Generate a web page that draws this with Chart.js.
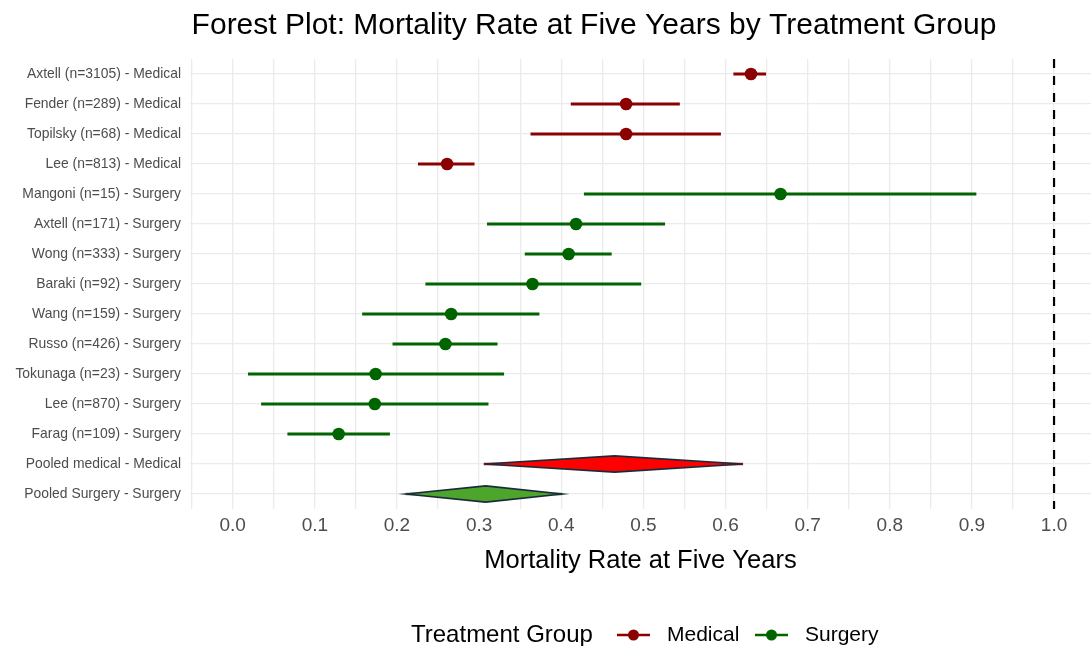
<!DOCTYPE html>
<html>
<head>
<meta charset="utf-8">
<script src="https://cdn.jsdelivr.net/npm/chart.js@4.4.1/dist/chart.umd.min.js"></script>
<style>
  html, body { margin: 0; padding: 0; background: #fff; overflow: hidden; }
  canvas { display: block; }
</style>
</head>
<body>
<canvas id="forest" width="1091" height="646"></canvas>
<script>
/* DATA */
const studyLabels = [
    "Axtell (n=3105) - Medical", "Fender (n=289) - Medical", "Topilsky (n=68) - Medical",
    "Lee (n=813) - Medical", "Mangoni (n=15) - Surgery", "Axtell (n=171) - Surgery",
    "Wong (n=333) - Surgery", "Baraki (n=92) - Surgery", "Wang (n=159) - Surgery",
    "Russo (n=426) - Surgery", "Tokunaga (n=23) - Surgery", "Lee (n=870) - Surgery",
    "Farag (n=109) - Surgery"
];
const studyGroups = ["Medical", "Medical", "Medical", "Medical", "Surgery", "Surgery",
    "Surgery", "Surgery", "Surgery", "Surgery", "Surgery", "Surgery", "Surgery"];
const studyEstimates = [0.631, 0.479, 0.479, 0.261, 0.667, 0.418, 0.409, 0.365, 0.266, 0.259, 0.174, 0.173, 0.129];
const studyLower = [0.610, 0.412, 0.363, 0.226, 0.428, 0.310, 0.356, 0.235, 0.158, 0.195, 0.019, 0.035, 0.067];
const studyUpper = [0.649, 0.544, 0.594, 0.294, 0.905, 0.526, 0.461, 0.497, 0.373, 0.322, 0.330, 0.311, 0.191];

const pooledLabels = ["Pooled medical - Medical", "Pooled Surgery - Surgery"];
const pooledGroups = ["Medical", "Surgery"];
const pooledEstimates = [0.465, 0.308];
const pooledLower = [0.306, 0.211];
const pooledUpper = [0.621, 0.401];

const xTickValues = [0, 0.1, 0.2, 0.3, 0.4, 0.5, 0.6, 0.7, 0.8, 0.9, 1.0];
const xTickLabels = ["0.0", "0.1", "0.2", "0.3", "0.4", "0.5", "0.6", "0.7", "0.8", "0.9", "1.0"];
const xMinorValues = [-0.05, 0.05, 0.15, 0.25, 0.35, 0.45, 0.55, 0.65, 0.75, 0.85, 0.95];
const referenceLine = 1.0;

/*****************************************************************/

const groupColors = { Medical: "#8B0000", Surgery: "#006400" };
const diamondFill = { Medical: "#FF0000", Surgery: "#4DA52C" };
const FONT = "'Liberation Sans', Arial, sans-serif";

const allLabels = studyLabels.concat(pooledLabels);

// CI bars for one group (null where the row belongs to another group)
function ciData(group) {
    return allLabels.map((label, i) => {
        if (i < studyLabels.length && studyGroups[i] === group) {
            return [studyLower[i], studyUpper[i]];
        }
        return null;
    });
}

function pointData(group) {
    const pts = [];
    studyLabels.forEach((label, i) => {
        if (studyGroups[i] === group) pts.push({ x: studyEstimates[i], y: label });
    });
    return pts;
}

// Thin line under the pooled diamonds
const pooledCi = allLabels.map((label, i) => {
    const p = pooledLabels.indexOf(label);
    return p >= 0 ? [pooledLower[p], pooledUpper[p]] : null;
});

/* PLUGINS */
const forestExtras = {
    id: "forestExtras",
    afterDatasetsDraw(chart) {
        const ctx = chart.ctx;
        const xs = chart.scales.x;
        const ys = chart.scales.y;
        const band = ys.getPixelForValue(1) - ys.getPixelForValue(0);

        // Pooled diamonds
        pooledLabels.forEach((label, i) => {
            const yc = ys.getPixelForValue(allLabels.indexOf(label));
            const h = band * 0.27;
            ctx.save();
            ctx.beginPath();
            ctx.moveTo(xs.getPixelForValue(pooledLower[i]), yc);
            ctx.lineTo(xs.getPixelForValue(pooledEstimates[i]), yc - h);
            ctx.lineTo(xs.getPixelForValue(pooledUpper[i]), yc);
            ctx.lineTo(xs.getPixelForValue(pooledEstimates[i]), yc + h);
            ctx.closePath();
            ctx.fillStyle = diamondFill[pooledGroups[i]];
            ctx.fill();
            ctx.lineWidth = 1.6;
            ctx.strokeStyle = "#1B2A3A";
            ctx.stroke();
            ctx.restore();
        });

        // Dashed reference line
        const xr = xs.getPixelForValue(referenceLine);
        ctx.save();
        ctx.beginPath();
        ctx.setLineDash([9, 8]);
        ctx.lineWidth = 2.2;
        ctx.strokeStyle = "#000";
        ctx.moveTo(xr, chart.chartArea.top);
        ctx.lineTo(xr, chart.chartArea.bottom);
        ctx.stroke();
        ctx.restore();
    },
    afterDraw(chart) {
        const ctx = chart.ctx;
        ctx.save();
        // Title
        ctx.fillStyle = "#000";
        ctx.font = "30px " + FONT;
        ctx.textAlign = "center";
        ctx.textBaseline = "alphabetic";
        ctx.fillText("Forest Plot: Mortality Rate at Five Years by Treatment Group", 594, 34);

        // Legend
        const ly = 635;
        ctx.textBaseline = "middle";
        ctx.textAlign = "left";
        ctx.font = "24px " + FONT;
        ctx.fillText("Treatment Group", 411, ly);
        let x = 617;
        ["Medical", "Surgery"].forEach(group => {
            ctx.strokeStyle = groupColors[group];
            ctx.fillStyle = groupColors[group];
            ctx.lineWidth = 2.5;
            ctx.beginPath();
            ctx.moveTo(x, ly);
            ctx.lineTo(x + 33, ly);
            ctx.stroke();
            ctx.beginPath();
            ctx.arc(x + 16.5, ly, 5.5, 0, Math.PI * 2);
            ctx.fill();
            ctx.fillStyle = "#000";
            ctx.font = "21px " + FONT;
            ctx.fillText(group, x + 50, ly);
            x += 138;
        });
        ctx.restore();
    }
};

/* CHART */
const context = document.getElementById("forest").getContext("2d");
new Chart(context, {
    type: "bar",
    data: {
        labels: allLabels,
        datasets: [
            {
                type: "line",
                label: "Medical",
                data: pointData("Medical"),
                showLine: false,
                pointRadius: 6.3,
                pointBackgroundColor: groupColors.Medical,
                pointBorderWidth: 0,
                order: 0
            },
            {
                type: "line",
                label: "Surgery",
                data: pointData("Surgery"),
                showLine: false,
                pointRadius: 6.3,
                pointBackgroundColor: groupColors.Surgery,
                pointBorderWidth: 0,
                order: 0
            },
            {
                label: "Medical CI",
                data: ciData("Medical"),
                backgroundColor: groupColors.Medical,
                barThickness: 2.5,
                grouped: false,
                order: 1
            },
            {
                label: "Surgery CI",
                data: ciData("Surgery"),
                backgroundColor: groupColors.Surgery,
                barThickness: 2.5,
                grouped: false,
                order: 1
            },
            {
                label: "Pooled CI",
                data: pooledCi,
                backgroundColor: ["", "", "", "", "", "", "", "", "", "", "", "", "", diamondFill.Medical, diamondFill.Surgery],
                barThickness: 2,
                grouped: false,
                order: 2
            }
        ]
    },
    options: {
        indexAxis: "y",
        responsive: false,
        animation: false,
        layout: { autoPadding: false, padding: { top: 59, bottom: 66, left: 0, right: 0 } },
        plugins: {
            legend: { display: false },
            tooltip: { enabled: false },
            title: { display: false }
        },
        scales: {
            x: {
                type: "linear",
                min: -0.052,
                max: 1.045,
                afterBuildTicks(scale) {
                    scale.ticks = xMinorValues.concat(xTickValues)
                        .sort((a, b) => a - b)
                        .map(v => ({ value: v }));
                },
                afterFit(scale) {
                    scale.height = 71;
                    scale.paddingLeft = 0;
                    scale.paddingRight = 0;
                },
                grid: { color: "#EBEBEB", lineWidth: 1.3, drawTicks: false },
                border: { display: false },
                ticks: {
                    autoSkip: false,
                    maxRotation: 0,
                    padding: 5,
                    color: "#4D4D4D",
                    font: { family: FONT, size: 19 },
                    callback: function (value) {
                        const i = xTickValues.findIndex(v => Math.abs(v - value) < 1e-9);
                        return i >= 0 ? xTickLabels[i] : "";
                    }
                },
                title: {
                    display: true,
                    text: "Mortality Rate at Five Years",
                    color: "#000",
                    font: { family: FONT, size: 25.5 },
                    padding: { top: 4, bottom: 4 }
                }
            },
            y: {
                type: "category",
                offset: true,
                afterFit(scale) { scale.width = 190; },
                grid: { color: "#EBEBEB", lineWidth: 1.3, drawTicks: false, offset: false },
                border: { display: false },
                ticks: {
                    autoSkip: false,
                    padding: 9,
                    color: "#4D4D4D",
                    font: { family: FONT, size: 13.9 }
                }
            }
        }
    },
    plugins: [forestExtras]
});
</script>
</body>
</html>
